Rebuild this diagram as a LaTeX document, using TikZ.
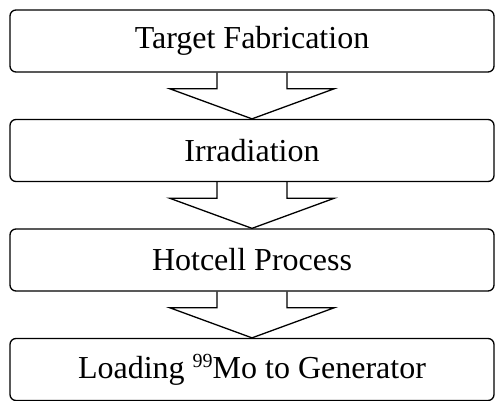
\documentclass[tikz,border=0pt]{standalone}
\usepackage{fontspec}
\setmainfont{Liberation Serif}
\usetikzlibrary{calc}
\tikzset{
  stage/.style={draw, line width=1.3pt, rounded corners=6pt, minimum width=484pt,
    minimum height=62pt, inner sep=0pt, font=\fontsize{32}{38}\selectfont},
  flowarrow/.style={draw, line width=1.3pt, line join=miter},
}
\newcommand{\isotope}[1]{\raisebox{11pt}{\fontsize{20}{20}\selectfont #1}}

\begin{document}
\begin{tikzpicture}[x=1pt,y=1pt]
  \useasboundingbox (0,0) rectangle (495,-400);

  \node[stage] (fab) at (252,-41) {Target Fabrication};
  \node[stage] (irr) at (252,-150.5) {Irradiation};
  \node[stage] (hot) at (252,-260) {Hotcell Process};
  \node[stage] (load) at (252,-369.5) {Loading \isotope{99}Mo to Generator};

  % block arrows between the stages
  \foreach \a/\b in {fab/irr,irr/hot,hot/load}{
    \draw[flowarrow] ($(\a.south)+(-35,0)$) -- ++(0,-16) -- ++(-47.5,0) -- (\b.north)
      -- ($(\a.south)+(82.5,-16)$) -- ++(-47.5,0) -- ++(0,16);
  }
\end{tikzpicture}
\end{document}
